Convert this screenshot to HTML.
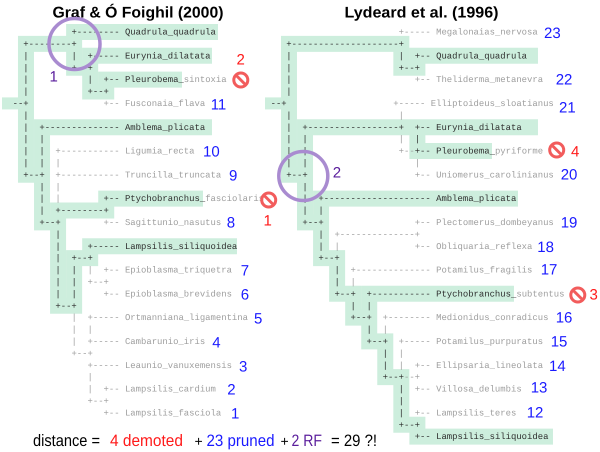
<!DOCTYPE html>
<html><head><meta charset="utf-8"><style>
html,body{margin:0;padding:0;background:#fff;}
svg{display:block;}
.t text{font-family:"Liberation Mono",monospace;font-size:8.92px;}
.d{fill:#2e2e2e;}
.g{fill:#9e9e9e;}
.num{font-family:"Liberation Sans",sans-serif;font-size:15px;}
.b{fill:#1a1aff;}
.r{fill:#ff1a1a;}
.p{fill:#5a1d9c;}
</style></head><body>
<svg width="600" height="452" viewBox="0 0 600 452" xmlns="http://www.w3.org/2000/svg" text-rendering="geometricPrecision">
<rect width="600" height="452" fill="#fff"/>
<g fill="#cdeedd">
<rect x="2" y="97.4" width="26" height="12"/>
<rect x="265" y="97.4" width="26" height="12"/>
</g>
<path transform="translate(15.275,32)" fill="none" stroke="#cdeedd" stroke-width="16" stroke-linecap="square" d="
M10.7 11.9 V142.8 M10.7 11.9 H58.85 M58.85 0 V35.7 M58.85 0 H194.7
M58.85 35.7 H74.9 M74.9 23.8 V59.5 M74.9 23.8 H188.7 M74.9 59.5 H90.95
M90.95 47.6 V59.5 M90.95 47.6 H158.7 M10.7 142.8 H26.75 M26.75 95.2 V190.4
M26.75 95.2 H188.7 M26.75 190.4 H42.8 M42.8 178.5 V273.7 M42.8 178.5 H90.95
M90.95 166.6 V178.5 M90.95 166.6 H179.7 M42.8 273.7 H58.85 M58.85 226.1 V273.7
M58.85 226.1 H74.9 M74.9 214.2 V226.1 M74.9 214.2 H213.7"/>
<path transform="translate(278.275,32)" fill="none" stroke="#cdeedd" stroke-width="16" stroke-linecap="square" d="
M10.7 11.9 V142.8 M10.7 11.9 H123.05 M123.05 11.9 V35.7 M123.05 35.7 H139.1
M139.1 23.8 V35.7 M139.1 23.8 H251.7 M10.7 142.8 H26.75 M26.75 95.2 V190.4
M26.75 95.2 H251.7 M139.1 95.2 V119 M139.1 119 H205.7 M26.75 190.4 H42.8
M42.8 166.6 V226.1 M42.8 166.6 H231.7 M42.8 226.1 H58.85 M58.85 226.1 V261.8
M58.85 261.8 H74.9 M74.9 261.8 V285.6 M74.9 285.6 H90.95 M90.95 261.8 V309.4
M90.95 261.8 H227.7 M90.95 309.4 H107 M107 309.4 V345.1 M107 345.1 H123.05
M123.05 345.1 V392.7 M123.05 392.7 H139.1 M139.1 392.7 V404.6 M139.1 404.6 H266.7"/>

<text x="52.5" y="17.5" font-family="Liberation Sans, sans-serif" font-weight="bold" font-size="15.5" textLength="171" lengthAdjust="spacingAndGlyphs" fill="#000">Graf &amp; Ó Foighil (2000)</text>
<text x="344.5" y="17.5" font-family="Liberation Sans, sans-serif" font-weight="bold" font-size="15.5" textLength="154" lengthAdjust="spacingAndGlyphs" fill="#000">Lydeard et al. (1996)</text>

<g class="t" transform="translate(12.6,34.6)">
<text class="d" x="58.85" y="0" textLength="48.15">+--------</text>
<text class="d" x="112.35" y="0" textLength="90.95">Quadrula_quadrula</text>
<text class="d" x="10.7" y="11.9" textLength="53.5">+--------+</text>
<text class="d" x="10.7" y="23.8">|</text><text class="d" x="58.85" y="23.8">|</text>
<text class="d" x="74.9" y="23.8" textLength="32.1">+-----</text>
<text class="d" x="112.35" y="23.8" textLength="85.6">Eurynia_dilatata</text>
<text class="d" x="10.7" y="35.7">|</text><text class="d" x="58.85" y="35.7" textLength="21.4">+--+</text>
<text class="d" x="10.7" y="47.6">|</text><text class="d" x="74.9" y="47.6">|</text>
<text class="d" x="90.95" y="47.6" textLength="16.05">+--</text>
<text class="d" x="112.35" y="47.6" textLength="58.85">Pleurobema_</text>
<text class="g" x="171.2" y="47.6" textLength="42.8">sintoxia</text>
<text class="d" x="10.7" y="59.5">|</text><text class="d" x="74.9" y="59.5" textLength="21.4">+--+</text>
<text class="d" x="0" y="71.4" textLength="16.05">--+</text>
<text class="g" x="90.95" y="71.4" textLength="16.05">+--</text>
<text class="g" x="112.35" y="71.4" textLength="80.25">Fusconaia_flava</text>
<text class="d" x="10.7" y="83.3">|</text>
<text class="d" x="10.7" y="95.2">|</text>
<text class="d" x="26.75" y="95.2" textLength="80.25">+--------------</text>
<text class="d" x="112.35" y="95.2" textLength="80.25">Amblema_plicata</text>
<text class="d" x="10.7" y="107.1">|</text><text class="d" x="26.75" y="107.1">|</text>
<text class="d" x="10.7" y="119">|</text><text class="d" x="26.75" y="119">|</text>
<text class="g" x="42.8" y="119" textLength="64.2">+-----------</text>
<text class="g" x="112.35" y="119" textLength="69.55">Ligumia_recta</text>
<text class="d" x="10.7" y="130.9">|</text><text class="d" x="26.75" y="130.9">|</text><text class="g" x="42.8" y="130.9">|</text>
<text class="d" x="10.7" y="142.8" textLength="21.4">+--+</text>
<text class="g" x="42.8" y="142.8" textLength="64.2">+-----------</text>
<text class="g" x="112.35" y="142.8" textLength="96.3">Truncilla_truncata</text>
<text class="d" x="26.75" y="154.7">|</text><text class="g" x="42.8" y="154.7">|</text>
<text class="d" x="26.75" y="166.6">|</text><text class="g" x="42.8" y="166.6">|</text>
<text class="d" x="90.95" y="166.6" textLength="16.05">+--</text>
<text class="d" x="112.35" y="166.6" textLength="80.25">Ptychobranchus_</text>
<text class="g" x="192.6" y="166.6" textLength="58.85">fasciolaris</text>
<text class="d" x="26.75" y="178.5">|</text>
<text class="d" x="42.8" y="178.5" textLength="53.5">+--------+</text>
<text class="d" x="26.75" y="190.4" textLength="21.4">+--+</text>
<text class="g" x="90.95" y="190.4" textLength="16.05">+--</text>
<text class="g" x="112.35" y="190.4" textLength="96.3">Sagittunio_nasutus</text>
<text class="d" x="42.8" y="202.3">|</text>
<text class="d" x="42.8" y="214.2">|</text>
<text class="d" x="74.9" y="214.2" textLength="32.1">+-----</text>
<text class="d" x="112.35" y="214.2" textLength="112.35">Lampsilis_siliquoidea</text>
<text class="d" x="42.8" y="226.1">|</text><text class="d" x="58.85" y="226.1" textLength="21.4">+--+</text>
<text class="d" x="42.8" y="238">|</text><text class="d" x="58.85" y="238">|</text><text class="g" x="74.9" y="238">|</text>
<text class="g" x="90.95" y="238" textLength="16.05">+--</text>
<text class="g" x="112.35" y="238" textLength="107">Epioblasma_triquetra</text>
<text class="d" x="42.8" y="249.9">|</text><text class="d" x="58.85" y="249.9">|</text>
<text class="g" x="74.9" y="249.9" textLength="21.4">+--+</text>
<text class="d" x="42.8" y="261.8">|</text><text class="d" x="58.85" y="261.8">|</text>
<text class="g" x="90.95" y="261.8" textLength="16.05">+--</text>
<text class="g" x="112.35" y="261.8" textLength="107">Epioblasma_brevidens</text>
<text class="d" x="42.8" y="273.7" textLength="21.4">+--+</text>
<text class="g" x="58.85" y="285.6">|</text>
<text class="g" x="74.9" y="285.6" textLength="32.1">+-----</text>
<text class="g" x="112.35" y="285.6" textLength="123.05">Ortmanniana_ligamentina</text>
<text class="g" x="58.85" y="297.5">|</text><text class="g" x="74.9" y="297.5">|</text>
<text class="g" x="58.85" y="309.4">|</text>
<text class="g" x="74.9" y="309.4" textLength="32.1">+-----</text>
<text class="g" x="112.35" y="309.4" textLength="80.25">Cambarunio_iris</text>
<text class="g" x="58.85" y="321.3" textLength="21.4">+--+</text>
<text class="g" x="74.9" y="333.2" textLength="32.1">+-----</text>
<text class="g" x="112.35" y="333.2" textLength="107">Leaunio_vanuxemensis</text>
<text class="g" x="74.9" y="345.1">|</text>
<text class="g" x="74.9" y="357">|</text>
<text class="g" x="90.95" y="357" textLength="16.05">+--</text>
<text class="g" x="112.35" y="357" textLength="90.95">Lampsilis_cardium</text>
<text class="g" x="74.9" y="368.9" textLength="21.4">+--+</text>
<text class="g" x="90.95" y="380.8" textLength="16.05">+--</text>
<text class="g" x="112.35" y="380.8" textLength="96.3">Lampsilis_fasciola</text>
</g>

<g class="t" transform="translate(275.6,34.6)">
<text class="g" x="123.05" y="0" textLength="32.1">+-----</text>
<text class="g" x="160.5" y="0" textLength="101.65">Megalonaias_nervosa</text>
<text class="d" x="10.7" y="11.9" textLength="117.7">+--------------------+</text>
<text class="d" x="10.7" y="23.8">|</text><text class="d" x="123.05" y="23.8">|</text>
<text class="d" x="139.1" y="23.8" textLength="16.05">+--</text>
<text class="d" x="160.5" y="23.8" textLength="90.95">Quadrula_quadrula</text>
<text class="d" x="10.7" y="35.7">|</text><text class="d" x="123.05" y="35.7" textLength="21.4">+--+</text>
<text class="d" x="10.7" y="47.6">|</text>
<text class="g" x="139.1" y="47.6" textLength="16.05">+--</text>
<text class="g" x="160.5" y="47.6" textLength="107">Theliderma_metanevra</text>
<text class="d" x="10.7" y="59.5">|</text>
<text class="d" x="-5" y="71.4" textLength="16.05">--+</text>
<text class="g" x="117.7" y="71.4" textLength="32.1">+-----</text>
<text class="g" x="155.15" y="71.4" textLength="123.05">Elliptoideus_sloatianus</text>
<text class="d" x="10.7" y="83.3">|</text><text class="g" x="123.05" y="83.3">|</text>
<text class="d" x="10.7" y="95.2">|</text>
<text class="d" x="26.75" y="95.2" textLength="101.65">+-----------------+</text>
<text class="d" x="139.1" y="95.2" textLength="16.05">+--</text>
<text class="d" x="160.5" y="95.2" textLength="85.6">Eurynia_dilatata</text>
<text class="d" x="10.7" y="107.1">|</text><text class="d" x="26.75" y="107.1">|</text><text class="g" x="123.05" y="107.1">|</text><text class="d" x="139.1" y="107.1">|</text>
<text class="d" x="10.7" y="119">|</text><text class="d" x="26.75" y="119">|</text>
<text class="g" x="123.05" y="119" textLength="16.05">+--</text>
<text class="d" x="139.1" y="119" textLength="16.05">+--</text>
<text class="d" x="160.5" y="119" textLength="58.85">Pleurobema_</text>
<text class="g" x="219.35" y="119" textLength="48.15">pyriforme</text>
<text class="d" x="10.7" y="130.9">|</text><text class="d" x="26.75" y="130.9">|</text><text class="g" x="139.1" y="130.9">|</text>
<text class="d" x="10.7" y="142.8" textLength="21.4">+--+</text>
<text class="g" x="139.1" y="142.8" textLength="16.05">+--</text>
<text class="g" x="160.5" y="142.8" textLength="117.7">Uniomerus_carolinianus</text>
<text class="d" x="26.75" y="154.7">|</text>
<text class="d" x="26.75" y="166.6">|</text>
<text class="d" x="42.8" y="166.6" textLength="112.35">+--------------------</text>
<text class="d" x="160.5" y="166.6" textLength="80.25">Amblema_plicata</text>
<text class="d" x="26.75" y="178.5">|</text><text class="d" x="42.8" y="178.5">|</text>
<text class="d" x="26.75" y="190.4" textLength="21.4">+--+</text>
<text class="g" x="139.1" y="190.4" textLength="16.05">+--</text>
<text class="g" x="160.5" y="190.4" textLength="117.7">Plectomerus_dombeyanus</text>
<text class="d" x="42.8" y="202.3">|</text>
<text class="g" x="58.85" y="202.3" textLength="85.6">+--------------+</text>
<text class="d" x="42.8" y="214.2">|</text><text class="g" x="58.85" y="214.2">|</text>
<text class="g" x="139.1" y="214.2" textLength="16.05">+--</text>
<text class="g" x="160.5" y="214.2" textLength="96.3">Obliquaria_reflexa</text>
<text class="d" x="42.8" y="226.1" textLength="21.4">+--+</text>
<text class="d" x="58.85" y="238">|</text>
<text class="g" x="74.9" y="238" textLength="80.25">+--------------</text>
<text class="g" x="160.5" y="238" textLength="96.3">Potamilus_fragilis</text>
<text class="d" x="58.85" y="249.9">|</text><text class="g" x="74.9" y="249.9">|</text>
<text class="d" x="58.85" y="261.8" textLength="21.4">+--+</text>
<text class="d" x="90.95" y="261.8" textLength="64.2">+-----------</text>
<text class="d" x="160.5" y="261.8" textLength="80.25">Ptychobranchus_</text>
<text class="g" x="240.75" y="261.8" textLength="48.15">subtentus</text>
<text class="d" x="74.9" y="273.7">|</text><text class="d" x="90.95" y="273.7">|</text>
<text class="d" x="74.9" y="285.6" textLength="21.4">+--+</text>
<text class="g" x="107" y="285.6" textLength="48.15">+--------</text>
<text class="g" x="160.5" y="285.6" textLength="112.35">Medionidus_conradicus</text>
<text class="d" x="90.95" y="297.5">|</text><text class="g" x="107" y="297.5">|</text>
<text class="d" x="90.95" y="309.4" textLength="21.4">+--+</text>
<text class="g" x="123.05" y="309.4" textLength="32.1">+-----</text>
<text class="g" x="160.5" y="309.4" textLength="107">Potamilus_purpuratus</text>
<text class="d" x="107" y="321.3">|</text><text class="g" x="123.05" y="321.3">|</text>
<text class="d" x="107" y="333.2">|</text><text class="g" x="123.05" y="333.2">|</text>
<text class="g" x="139.1" y="333.2" textLength="16.05">+--</text>
<text class="g" x="160.5" y="333.2" textLength="107">Ellipsaria_lineolata</text>
<text class="d" x="107" y="345.1" textLength="21.4">+--+</text>
<text class="g" x="128.4" y="345.1" textLength="16.05">--+</text>
<text class="d" x="123.05" y="357">|</text>
<text class="g" x="139.1" y="357" textLength="16.05">+--</text>
<text class="g" x="160.5" y="357" textLength="85.6">Villosa_delumbis</text>
<text class="d" x="123.05" y="368.9">|</text>
<text class="d" x="123.05" y="380.8">|</text>
<text class="g" x="139.1" y="380.8" textLength="16.05">+--</text>
<text class="g" x="160.5" y="380.8" textLength="80.25">Lampsilis_teres</text>
<text class="d" x="123.05" y="392.7" textLength="21.4">+--+</text>
<text class="d" x="139.1" y="404.6" textLength="16.05">+--</text>
<text class="d" x="160.5" y="404.6" textLength="112.35">Lampsilis_siliquoidea</text>
</g>

<g class="num b">
<text x="210.7" y="109.4">11</text>
<text x="203" y="156.4">10</text>
<text x="229" y="180.4">9</text>
<text x="226.7" y="227.4">8</text>
<text x="240.7" y="275.4">7</text>
<text x="240.7" y="299.4">6</text>
<text x="254" y="323.4">5</text>
<text x="212.3" y="347.4">4</text>
<text x="239" y="371.4">3</text>
<text x="227.3" y="394.4">2</text>
<text x="231" y="418.4">1</text>
<text x="544" y="38.2">23</text>
<text x="555.7" y="84.4">22</text>
<text x="559" y="112.7">21</text>
<text x="560.7" y="179.4">20</text>
<text x="560.7" y="227.4">19</text>
<text x="537.3" y="252">18</text>
<text x="540.7" y="274.4">17</text>
<text x="555.7" y="322.4">16</text>
<text x="550.7" y="346.4">15</text>
<text x="549" y="371">14</text>
<text x="530.7" y="392.4">13</text>
<text x="526.7" y="417.4">12</text>
</g>

<g class="num r">
<text x="236.5" y="64.5">2</text>
<text x="263.5" y="225.4">1</text>
<text x="571" y="156.4">4</text>
<text x="589.5" y="299.4">3</text>
</g>
<g fill="none" stroke="#f25c5c" stroke-width="3">
<g transform="translate(240.8,80)"><circle r="7"/><line x1="-5" y1="-5" x2="5" y2="5"/></g>
<g transform="translate(268.7,200)"><circle r="7"/><line x1="-5" y1="-5" x2="5" y2="5"/></g>
<g transform="translate(556.7,150)"><circle r="7"/><line x1="-5" y1="-5" x2="5" y2="5"/></g>
<g transform="translate(577.8,295)"><circle r="7"/><line x1="-5" y1="-5" x2="5" y2="5"/></g>
</g>

<g fill="none" stroke="#a98bd0" stroke-width="3.5">
<circle cx="74.5" cy="44" r="25.5"/>
<circle cx="303.3" cy="176" r="24.5"/>
</g>
<g class="num p">
<text x="49.5" y="81.7">1</text>
<text x="332.7" y="177.7">2</text>
</g>

<g font-family="Liberation Sans, sans-serif" font-size="16.5">
<text x="33" y="446" fill="#000" textLength="67" lengthAdjust="spacingAndGlyphs">distance =</text>
<text x="110" y="446" fill="#ff1a1a" textLength="73" lengthAdjust="spacingAndGlyphs">4 demoted</text>
<text x="194.5" y="446" fill="#000" font-size="14">+</text>
<text x="206.5" y="446" fill="#1a1aff" textLength="68" lengthAdjust="spacingAndGlyphs">23 pruned</text>
<text x="280.5" y="446" fill="#000" font-size="14">+</text>
<text x="291.5" y="446" fill="#5a1d9c" textLength="30.5" lengthAdjust="spacingAndGlyphs">2 RF</text>
<text x="331" y="446" fill="#000" textLength="46" lengthAdjust="spacingAndGlyphs">= 29 ?!</text>
</g>
</svg>
</body></html>
